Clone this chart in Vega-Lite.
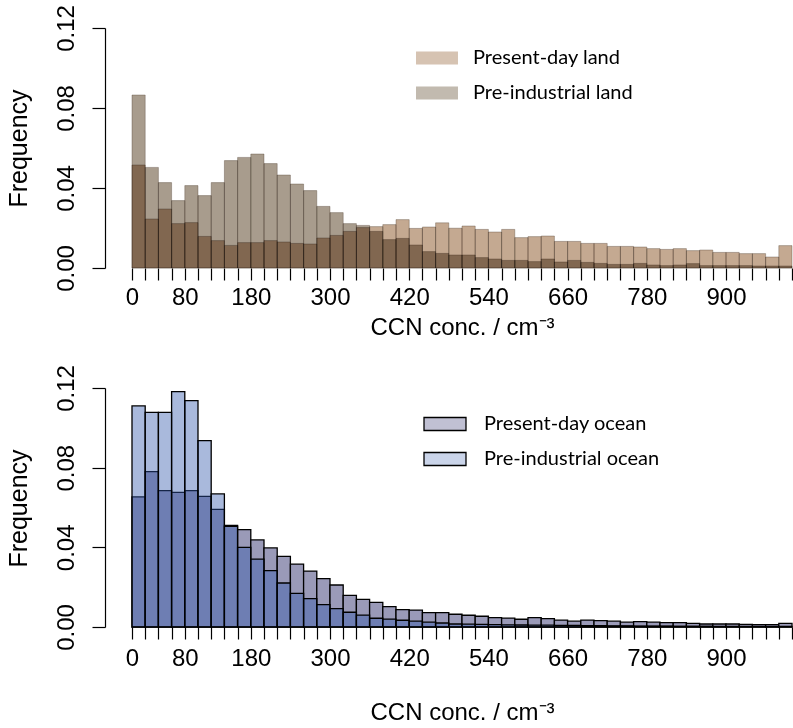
{
  "$schema": "https://vega.github.io/schema/vega-lite/v6.json",
  "padding": {"left": 5, "top": 4, "right": 0, "bottom": 0},
  "config": {
    "view": {"stroke": null},
    "font": "Liberation Sans",
    "axis": {"labelFont": "Liberation Sans", "titleFont": "Liberation Sans", "labelColor": "black", "titleColor": "black", "tickColor": "black", "domainColor": "black", "grid": false, "tickWidth": 1.2, "domainWidth": 1.2}
  },
  "vconcat": [
    {
      "width": 688,
      "height": 240,
      "data": {"values": [
        {"b0":0,"b1":20,"pd":0.0515,"pi":0.0865},
        {"b0":20,"b1":40,"pd":0.0245,"pi":0.0503},
        {"b0":40,"b1":60,"pd":0.0295,"pi":0.0427},
        {"b0":60,"b1":80,"pd":0.0222,"pi":0.0337},
        {"b0":80,"b1":100,"pd":0.0227,"pi":0.0412},
        {"b0":100,"b1":120,"pd":0.0158,"pi":0.0362},
        {"b0":120,"b1":140,"pd":0.0137,"pi":0.0427},
        {"b0":140,"b1":160,"pd":0.0113,"pi":0.0537},
        {"b0":160,"b1":180,"pd":0.0127,"pi":0.0553},
        {"b0":180,"b1":200,"pd":0.0127,"pi":0.0570},
        {"b0":200,"b1":220,"pd":0.0137,"pi":0.0522},
        {"b0":220,"b1":240,"pd":0.0130,"pi":0.0465},
        {"b0":240,"b1":260,"pd":0.0123,"pi":0.0420},
        {"b0":260,"b1":280,"pd":0.0120,"pi":0.0387},
        {"b0":280,"b1":300,"pd":0.0150,"pi":0.0308},
        {"b0":300,"b1":320,"pd":0.0163,"pi":0.0277},
        {"b0":320,"b1":340,"pd":0.0183,"pi":0.0222},
        {"b0":340,"b1":360,"pd":0.0202,"pi":0.0213},
        {"b0":360,"b1":380,"pd":0.0207,"pi":0.0183},
        {"b0":380,"b1":400,"pd":0.0217,"pi":0.0142},
        {"b0":400,"b1":420,"pd":0.0242,"pi":0.0148},
        {"b0":420,"b1":440,"pd":0.0198,"pi":0.0115},
        {"b0":440,"b1":460,"pd":0.0205,"pi":0.0082},
        {"b0":460,"b1":480,"pd":0.0226,"pi":0.0073},
        {"b0":480,"b1":500,"pd":0.0199,"pi":0.0065},
        {"b0":500,"b1":520,"pd":0.0210,"pi":0.0065},
        {"b0":520,"b1":540,"pd":0.0193,"pi":0.0052},
        {"b0":540,"b1":560,"pd":0.0180,"pi":0.0045},
        {"b0":560,"b1":580,"pd":0.0193,"pi":0.0038},
        {"b0":580,"b1":600,"pd":0.0152,"pi":0.0038},
        {"b0":600,"b1":620,"pd":0.0157,"pi":0.0032},
        {"b0":620,"b1":640,"pd":0.0160,"pi":0.0045},
        {"b0":640,"b1":660,"pd":0.0133,"pi":0.0030},
        {"b0":660,"b1":680,"pd":0.0133,"pi":0.0038},
        {"b0":680,"b1":700,"pd":0.0123,"pi":0.0028},
        {"b0":700,"b1":720,"pd":0.0123,"pi":0.0023},
        {"b0":720,"b1":740,"pd":0.0108,"pi":0.0018},
        {"b0":740,"b1":760,"pd":0.0108,"pi":0.0018},
        {"b0":760,"b1":780,"pd":0.0105,"pi":0.0023},
        {"b0":780,"b1":800,"pd":0.0097,"pi":0.0015},
        {"b0":800,"b1":820,"pd":0.0093,"pi":0.0012},
        {"b0":820,"b1":840,"pd":0.0097,"pi":0.0015},
        {"b0":840,"b1":860,"pd":0.0087,"pi":0.0022},
        {"b0":860,"b1":880,"pd":0.0090,"pi":0.0012},
        {"b0":880,"b1":900,"pd":0.0078,"pi":0.0012},
        {"b0":900,"b1":920,"pd":0.0078,"pi":0.0012},
        {"b0":920,"b1":940,"pd":0.0072,"pi":0.0012},
        {"b0":940,"b1":960,"pd":0.0072,"pi":0.0010},
        {"b0":960,"b1":980,"pd":0.0055,"pi":0.0010},
        {"b0":980,"b1":1000,"pd":0.0112,"pi":0.0010}
      ]},
      "encoding": {
        "x": {"field": "b0", "type": "quantitative", "scale": {"domain": [-40.9, 1001.5], "nice": false, "zero": false},
          "axis": {"values": [0,20,40,60,80,100,120,140,160,180,200,220,240,260,280,300,320,340,360,380,400,420,440,460,480,500,520,540,560,580,600,620,640,660,680,700,720,740,760,780,800,820,840,860,880,900,920,940,960,980,1000],
            "labelExpr": "indexof([0,80,180,300,420,540,660,780,900], datum.value) >= 0 ? datum.label : ''",
            "domain": false, "tickSize": 12, "labelFontSize": 24, "labelPadding": 5, "labelOverlap": false, "labelFlush": false,
            "title": "CCN conc. / cm⁻³", "titleFontSize": 24, "titleFontWeight": "normal", "titleX": 357, "titleY": 66, "titleAlign": "center", "titleBaseline": "alphabetic"}},
        "x2": {"field": "b1"}
      },
      "layer": [
        {
          "mark": {"type": "bar", "blend": "multiply", "stroke": "#4a3a2a", "strokeOpacity": 0.35, "strokeWidth": 1},
          "encoding": {
            "y": {"field": "pd", "type": "quantitative", "scale": {"domain": [0, 0.12], "nice": false, "zero": true},
              "axis": {"values": [0,0.02,0.04,0.06,0.08,0.1,0.12], "format": ".2f",
                "labelExpr": "indexof(['0.00','0.04','0.08','0.12'], datum.label) >= 0 ? datum.label : ''",
                "labelAngle": -90, "labelAlign": "center", "labelBaseline": "alphabetic", "labelPadding": 19, "tickSize": 13, "labelFontSize": 24, "labelOverlap": false, "labelFlush": false,
                "title": "Frequency", "titleFontSize": 25, "titleFontWeight": "normal", "titleX": -87, "titleY": 120, "titleAngle": -90, "titleAlign": "center", "titleBaseline": "middle"}},
            "y2": {"datum": 0},
            "color": {"datum": "Present-day land", "type": "nominal",
              "scale": {"domain": ["Present-day land", "Pre-industrial land"], "range": ["#c4a991", "#a89c8d"]},
              "legend": {"orient": "none", "legendX": 322, "legendY": 20, "title": null, "padding": 0,
                "symbolType": "M-3.23,-1L3.23,-1L3.23,1L-3.23,1Z", "symbolSize": 169, "symbolStrokeWidth": 0, "symbolOpacity": 0.7,
                "labelFont": "Lato", "labelFontSize": 20, "labelColor": "black", "labelOffset": 26, "labelLimit": 0, "rowPadding": 15}}
          }
        },
        {
          "mark": {"type": "bar", "blend": "multiply", "stroke": "#4a3a2a", "strokeOpacity": 0.35, "strokeWidth": 1},
          "encoding": {
            "y": {"field": "pi", "type": "quantitative"},
            "y2": {"datum": 0},
            "color": {"datum": "Pre-industrial land", "type": "nominal"}
          }
        },
        {
          "data": {"values": [{}]},
          "mark": {"type": "rule", "color": "black", "strokeWidth": 1.2},
          "encoding": {"x": {"datum": 0}, "x2": {"datum": 1000}, "y": {"datum": 0}}
        }
      ]
    },
    {
      "width": 688,
      "height": 239,
      "data": {"values": [
        {"b0":0,"b1":20,"pd":0.0653,"pi":0.1110},
        {"b0":20,"b1":40,"pd":0.0780,"pi":0.1078},
        {"b0":40,"b1":60,"pd":0.0685,"pi":0.1078},
        {"b0":60,"b1":80,"pd":0.0676,"pi":0.1182},
        {"b0":80,"b1":100,"pd":0.0685,"pi":0.1137},
        {"b0":100,"b1":120,"pd":0.0656,"pi":0.0936},
        {"b0":120,"b1":140,"pd":0.0591,"pi":0.0668},
        {"b0":140,"b1":160,"pd":0.0510,"pi":0.0505},
        {"b0":160,"b1":180,"pd":0.0489,"pi":0.0400},
        {"b0":180,"b1":200,"pd":0.0437,"pi":0.0341},
        {"b0":200,"b1":220,"pd":0.0397,"pi":0.0283},
        {"b0":220,"b1":240,"pd":0.0355,"pi":0.0221},
        {"b0":240,"b1":260,"pd":0.0316,"pi":0.0169},
        {"b0":260,"b1":280,"pd":0.0281,"pi":0.0142},
        {"b0":280,"b1":300,"pd":0.0243,"pi":0.0112},
        {"b0":300,"b1":320,"pd":0.0211,"pi":0.0092},
        {"b0":320,"b1":340,"pd":0.0159,"pi":0.0074},
        {"b0":340,"b1":360,"pd":0.0139,"pi":0.0060},
        {"b0":360,"b1":380,"pd":0.0124,"pi":0.0044},
        {"b0":380,"b1":400,"pd":0.0102,"pi":0.0040},
        {"b0":400,"b1":420,"pd":0.0087,"pi":0.0034},
        {"b0":420,"b1":440,"pd":0.0085,"pi":0.0029},
        {"b0":440,"b1":460,"pd":0.0072,"pi":0.0024},
        {"b0":460,"b1":480,"pd":0.0072,"pi":0.0020},
        {"b0":480,"b1":500,"pd":0.0064,"pi":0.0015},
        {"b0":500,"b1":520,"pd":0.0059,"pi":0.0014},
        {"b0":520,"b1":540,"pd":0.0054,"pi":0.0013},
        {"b0":540,"b1":560,"pd":0.0047,"pi":0.0012},
        {"b0":560,"b1":580,"pd":0.0045,"pi":0.0011},
        {"b0":580,"b1":600,"pd":0.0039,"pi":0.0010},
        {"b0":600,"b1":620,"pd":0.0047,"pi":0.0009},
        {"b0":620,"b1":640,"pd":0.0042,"pi":0.0009},
        {"b0":640,"b1":660,"pd":0.0035,"pi":0.0008},
        {"b0":660,"b1":680,"pd":0.0029,"pi":0.0008},
        {"b0":680,"b1":700,"pd":0.0035,"pi":0.0007},
        {"b0":700,"b1":720,"pd":0.0032,"pi":0.0007},
        {"b0":720,"b1":740,"pd":0.0029,"pi":0.0006},
        {"b0":740,"b1":760,"pd":0.0024,"pi":0.0006},
        {"b0":760,"b1":780,"pd":0.0027,"pi":0.0005},
        {"b0":780,"b1":800,"pd":0.0024,"pi":0.0005},
        {"b0":800,"b1":820,"pd":0.0022,"pi":0.0005},
        {"b0":820,"b1":840,"pd":0.0022,"pi":0.0004},
        {"b0":840,"b1":860,"pd":0.0018,"pi":0.0004},
        {"b0":860,"b1":880,"pd":0.0015,"pi":0.0004},
        {"b0":880,"b1":900,"pd":0.0015,"pi":0.0003},
        {"b0":900,"b1":920,"pd":0.0015,"pi":0.0003},
        {"b0":920,"b1":940,"pd":0.0013,"pi":0.0003},
        {"b0":940,"b1":960,"pd":0.0012,"pi":0.0003},
        {"b0":960,"b1":980,"pd":0.0012,"pi":0.0003},
        {"b0":980,"b1":1000,"pd":0.0018,"pi":0.0003}
      ]},
      "encoding": {
        "x": {"field": "b0", "type": "quantitative", "scale": {"domain": [-40.9, 1001.5], "nice": false, "zero": false},
          "axis": {"values": [0,20,40,60,80,100,120,140,160,180,200,220,240,260,280,300,320,340,360,380,400,420,440,460,480,500,520,540,560,580,600,620,640,660,680,700,720,740,760,780,800,820,840,860,880,900,920,940,960,980,1000],
            "labelExpr": "indexof([0,80,180,300,420,540,660,780,900], datum.value) >= 0 ? datum.label : ''",
            "domain": false, "tickSize": 12, "labelFontSize": 24, "labelPadding": 7, "labelOverlap": false, "labelFlush": false,
            "title": "CCN conc. / cm⁻³", "titleFontSize": 24, "titleFontWeight": "normal", "titleX": 357, "titleY": 92, "titleAlign": "center", "titleBaseline": "alphabetic"}},
        "x2": {"field": "b1"}
      },
      "layer": [
        {
          "mark": {"type": "bar", "stroke": "black", "strokeWidth": 1.3, "fillOpacity": 1},
          "encoding": {
            "y": {"field": "pd", "type": "quantitative", "scale": {"domain": [0, 0.12], "nice": false, "zero": true},
              "axis": {"values": [0,0.02,0.04,0.06,0.08,0.1,0.12], "format": ".2f",
                "labelExpr": "indexof(['0.00','0.04','0.08','0.12'], datum.label) >= 0 ? datum.label : ''",
                "labelAngle": -90, "labelAlign": "center", "labelBaseline": "alphabetic", "labelPadding": 19, "tickSize": 13, "labelFontSize": 24, "labelOverlap": false, "labelFlush": false,
                "title": "Frequency", "titleFontSize": 25, "titleFontWeight": "normal", "titleX": -87, "titleY": 120, "titleAngle": -90, "titleAlign": "center", "titleBaseline": "middle"}},
            "y2": {"datum": 0},
            "color": {"datum": "Present-day ocean", "type": "nominal",
              "scale": {"domain": ["Present-day ocean", "Pre-industrial ocean"], "range": ["#9a9ab8", "#3258ab"]},
              "legend": {"orient": "none", "legendX": 330, "legendY": 26, "title": null, "padding": 0,
                "symbolType": "M-3.23,-1L3.23,-1L3.23,1L-3.23,1Z", "symbolSize": 169, "symbolStrokeColor": "black", "symbolStrokeWidth": 1.3,
                "labelFont": "Lato", "labelFontSize": 20, "labelColor": "black", "labelOffset": 29, "labelLimit": 0, "rowPadding": 15,
                "encode": {"symbols": {"update": {"fillOpacity": {"signal": "datum.value === 'Pre-industrial ocean' ? 0.26 : 0.62"}}}}}}
          }
        },
        {
          "mark": {"type": "bar", "stroke": "black", "strokeWidth": 1.3, "fillOpacity": 0.42},
          "encoding": {
            "y": {"field": "pi", "type": "quantitative"},
            "y2": {"datum": 0},
            "color": {"datum": "Pre-industrial ocean", "type": "nominal"}
          }
        },
        {
          "data": {"values": [{}]},
          "mark": {"type": "rule", "color": "black", "strokeWidth": 1.2},
          "encoding": {"x": {"datum": 0}, "x2": {"datum": 1000}, "y": {"datum": 0}}
        }
      ]
    }
  ],
  "spacing": 120,
  "bounds": "flush",
  "resolve": {"scale": {"color": "independent"}, "legend": {"color": "independent"}}
}
